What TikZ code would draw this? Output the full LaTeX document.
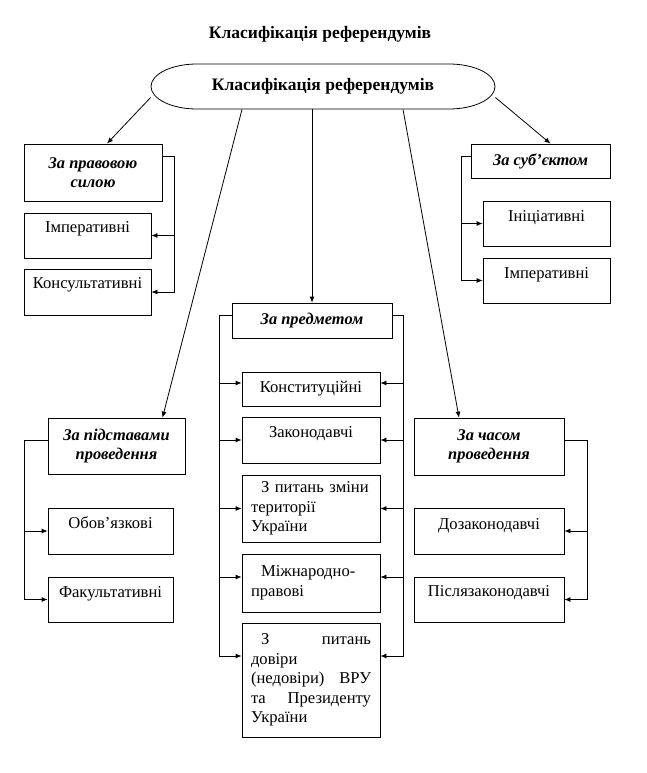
\documentclass[tikz,border=0pt]{standalone}
\usepackage{fontspec}
\setmainfont{Liberation Serif}
\usetikzlibrary{arrows.meta}
\tikzset{
        % plain boxes
        cell/.style={draw, rectangle, inner sep=0pt, align=center, font=\fontsize{16.6}{19.5}\selectfont},
        % headings of the groups
        head/.style={cell, font=\fontsize{16.4}{18.5}\selectfont\bfseries\itshape},
        % boxes with text set in lines
        para/.style={cell, text width=120pt, align=left},
        % moves a single line up in its box
        lift/.style={text height=9pt, text depth=#1},
        sz/.style 2 args={minimum width=#1, minimum height=#2}
}
\begin{document}
\begin{tikzpicture}[x=1pt, y=-1pt, line width=0.8pt,
            >={Latex[length=6pt,width=5pt]}]
            \useasboundingbox (0,0) rectangle (647,773);
            \node[font=\fontsize{17.5}{18}\selectfont\bfseries] (title) at (320,34) {Класифікація референдумів};
            % root
            \node[font=\fontsize{17.5}{18}\selectfont\bfseries, sz={344pt}{45pt}] (root) at (323,86.5) {Класифікація референдумів};
            \draw (197,64) -- (449,64) .. controls (474.4,64) and (495,74.1) .. (495,86.5)
                .. controls (495,98.9) and (474.4,109) .. (449,109) -- (197,109)
                .. controls (171.6,109) and (151,98.9) .. (151,86.5)
                .. controls (151,74.1) and (171.6,64) .. (197,64) -- cycle;
            % left group
            \node[head, sz={138pt}{57pt}] (l0) at (93,172.5) {За правовою\\силою};
            \node[cell, sz={127pt}{45pt}, lift=15pt] (l1) at (87.5,235.5) {Імперативні};
            \node[cell, sz={127pt}{46pt}, lift=16pt] (l2) at (87.5,292) {Консультативні};
            % right group
            \node[head, sz={139pt}{34pt}] (r0) at (540.5,161) {За суб’єктом};
            \node[cell, sz={127pt}{45pt}, lift=13pt] (r1) at (546.5,223.5) {Ініціативні};
            \node[cell, sz={127pt}{45pt}, lift=13pt] (r2) at (546.5,280.5) {Імперативні};
            % middle group
            \node[head, sz={160pt}{35pt}] (m0) at (312,320.5) {За предметом};
            \node[cell, sz={138pt}{34pt}, lift=2pt] (m1) at (311,389) {Конституційні};
            \node[cell, sz={138pt}{46pt}, lift=14pt] (m2) at (311,440) {Законодавчі};
            \node[para, sz={138pt}{67pt}] (m3) at (311,508.5) {\hspace*{10pt}З питань зміни\\території\\України};
            \node[para, sz={138pt}{58pt}] (m4) at (311,583) {\hspace*{10pt}Міжнародно-\\правові};
            \node[para, sz={138pt}{114pt}] (m5) at (311,680) {\hspace*{10pt}З\hfill питань\\довіри\\(недовіри)\hfill ВРУ\\та\hfill Президенту\\України};
            % lower left group
            \node[head, sz={137pt}{56pt}] (p0) at (116.5,446) {За підставами\\проведення};
            \node[cell, sz={125pt}{46pt}, lift=14pt] (p1) at (110.5,531) {Обов’язкові};
            \node[cell, sz={125pt}{45pt}, lift=13pt] (p2) at (110.5,599.5) {Факультативні};
            % lower right group
            \node[head, sz={150pt}{57pt}] (t0) at (489,446.5) {За часом\\проведення};
            \node[cell, sz={150pt}{46pt}, lift=12pt] (t1) at (489,531) {Дозаконодавчі};
            \node[cell, sz={150pt}{45pt}, lift=15pt] (t2) at (489,599.5) {Післязаконодавчі};

            % from the root
            \draw[->] ([yshift=-11pt]root.west) -- ([xshift=14pt]l0.north);
            \draw[->] ([yshift=-11pt]root.east) -- ([xshift=10pt]r0.north);
            \draw[->] (root.south -| m0.north) -- (m0.north);
            \draw[->] ([xshift=-81pt]root.south) -- ([xshift=46pt]p0.north);
            \draw[->] ([xshift=80pt]root.south) -- ([xshift=-30pt]t0.north);

            % brackets
            \coordinate (lbar) at (174,0);
            \draw[->] ([yshift=16.5pt]l0.east) -| (lbar |- l2.east) -- (l2.east);
            \draw[->] (lbar |- l1.east) -- (l1.east);

            \coordinate (rbar) at (461,0);
            \draw[->] ([yshift=5pt]r0.west) -| (rbar |- r2.west) -- (r2.west);
            \draw[->] (rbar |- r1.west) -- (r1.west);

            \coordinate (mbarl) at (219,0);
            \coordinate (mbarr) at (403,0);
            \foreach \n/\s in {m1/6, m2/0, m3/0, m4/6, m5/24} {
                \coordinate (\n-in-l) at ([yshift=\s pt]\n.west);
                \coordinate (\n-in-r) at ([yshift=\s pt]\n.east);
            }
            \draw[->] ([yshift=5.5pt]m0.west) -| (mbarl |- m5-in-l) -- (m5-in-l);
            \draw[->] ([yshift=5.5pt]m0.east) -| (mbarr |- m5-in-r) -- (m5-in-r);
            \foreach \n in {m1, m2, m3, m4} {
                \draw[->] (mbarl |- \n-in-l) -- (\n-in-l);
                \draw[->] (mbarr |- \n-in-r) -- (\n-in-r);
            }

            \coordinate (pbar) at (24,0);
            \draw[->] ([yshift=6pt]p0.west) -| (pbar |- p2.west) -- (p2.west);
            \draw[->] (pbar |- p1.west) -- (p1.west);

            \coordinate (tbar) at (587,0);
            \draw[->] ([yshift=6.5pt]t0.east) -| (tbar |- t2.east) -- (t2.east);
            \draw[->] (tbar |- t1.east) -- (t1.east);
\end{tikzpicture}
\end{document}
